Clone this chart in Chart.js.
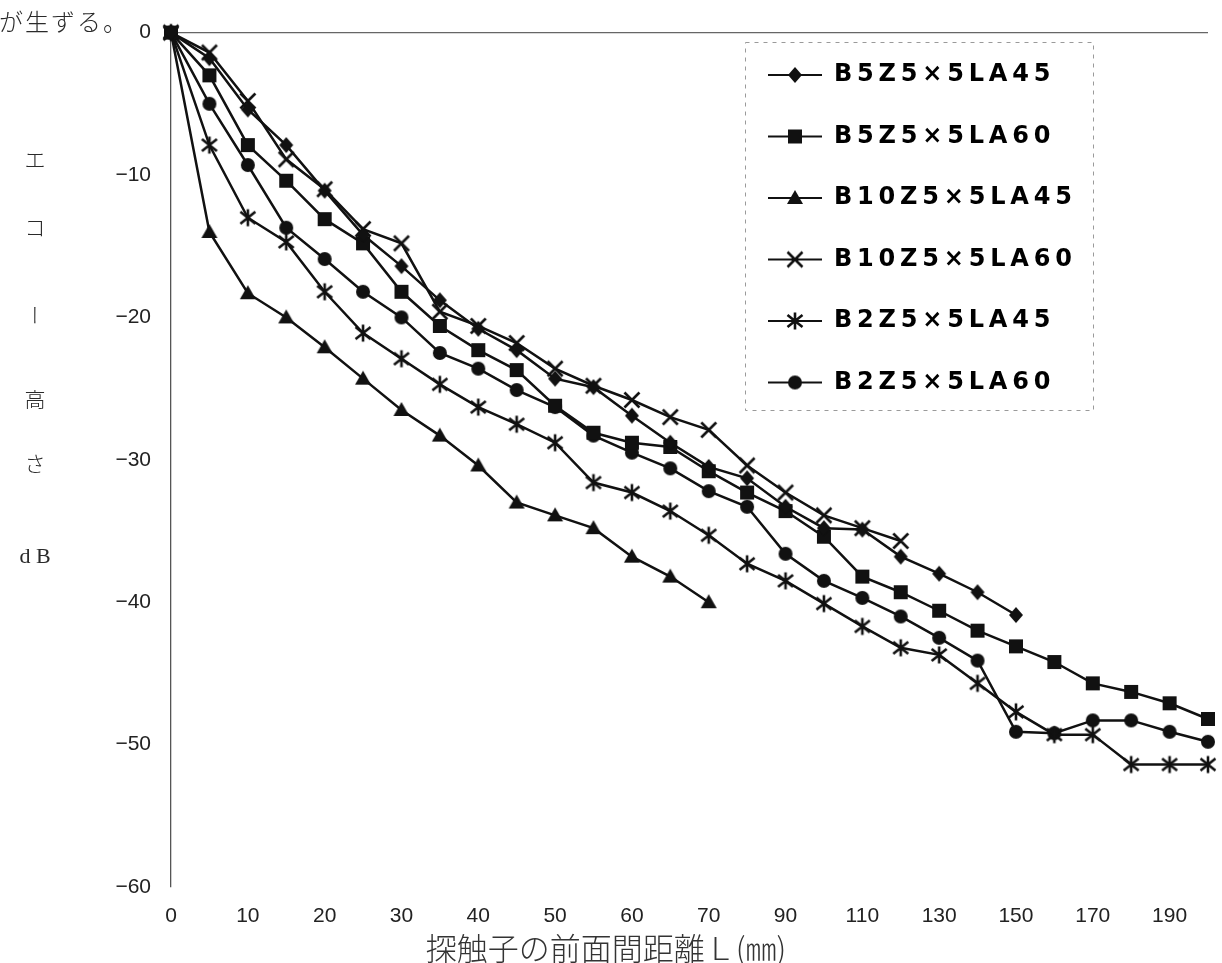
<!DOCTYPE html>
<html lang="ja">
<head>
<meta charset="utf-8">
<title>エコー高さと探触子の前面間距離</title>
<script src="https://cdn.jsdelivr.net/npm/chart.js@4.4.1/dist/chart.umd.min.js"></script>
<style>
  html, body { margin: 0; padding: 0; background: #fff; }
  #wrap { position: relative; width: 1222px; height: 963px; overflow: hidden; }
  #chart { position: absolute; left: 0; top: 0; }
  .jp {
    position: absolute;
    font-family: "Noto Sans CJK JP", sans-serif;
    font-weight: 300;
    color: #2a2a2a;
    white-space: nowrap;
    transform: translate(-50%, -50%);
  }
  #lead { left: 64px; top: 20px; font-size: 24px; letter-spacing: 2px; }
  .yt { left: 35px; font-size: 21px; }
  .vert { writing-mode: vertical-rl; }
  .db { font-family: "Liberation Serif", serif; font-size: 22px; }
  #xtitle { left: 606px; top: 946px; font-size: 31px; color: #333; }
</style>
</head>
<body>
<div id="wrap">
  <canvas id="chart" width="1222" height="963"></canvas>
  <div class="jp" id="lead">が生ずる。</div>
  <div class="jp yt" style="top:158px">エ</div>
  <div class="jp yt" style="top:226px">コ</div>
  <div class="jp yt vert" style="top:315px">ー</div>
  <div class="jp yt" style="top:398px">高</div>
  <div class="jp yt" style="top:462px">さ</div>
  <div class="jp yt db" style="top:556px">d B</div>
  <div class="jp" id="xtitle">探触子の前面間距離Ｌ(㎜)</div>
</div>
<script>
// distance between probe fronts (mm) – 5 mm steps up to 70, then 10 mm steps
const distances = [0, 5, 10, 15, 20, 25, 30, 35, 40, 45, 50, 55, 60, 65, 70,
  80, 90, 100, 110, 120, 130, 140, 150, 160, 170, 180, 190, 200];
const xTickLabels = [0, 10, 20, 30, 40, 50, 60, 70, 90, 110, 130, 150, 170, 190];

// echo height (dB)
const b5z5la45 = [0, -1.8, -5.4, -7.9, -11.1, -14.2, -16.4, -18.8, -20.8, -22.3,
  -24.3, -24.9, -26.9, -28.8, -30.5, -31.3, -33.3, -34.8, -34.9, -36.8,
  -38.0, -39.3, -40.9];
const b5z5la60 = [0, -3.0, -7.9, -10.4, -13.1, -14.8, -18.2, -20.6, -22.3, -23.7,
  -26.2, -28.1, -28.8, -29.1, -30.8, -32.3, -33.6, -35.4, -38.2, -39.3,
  -40.6, -42.0, -43.1, -44.2, -45.7, -46.3, -47.1, -48.2];
const b10z5la45 = [0, -14.0, -18.3, -20.0, -22.1, -24.3, -26.5, -28.3, -30.4, -33.0,
  -33.9, -34.8, -36.8, -38.2, -40.0];
const b10z5la60 = [0, -1.4, -4.8, -8.9, -11.0, -13.8, -14.8, -19.6, -20.6, -21.8,
  -23.6, -24.8, -25.8, -27.0, -27.9, -30.4, -32.3, -33.9, -34.8, -35.7];
const b2z5la45 = [0, -7.9, -13.0, -14.7, -18.2, -21.1, -22.9, -24.7, -26.3, -27.5,
  -28.8, -31.6, -32.3, -33.6, -35.3, -37.3, -38.5, -40.1, -41.7, -43.2,
  -43.7, -45.7, -47.7, -49.3, -49.3, -51.4, -51.4, -51.4];
const b2z5la60 = [0, -5.0, -9.3, -13.7, -15.9, -18.2, -20.0, -22.5, -23.6, -25.1,
  -26.3, -28.3, -29.5, -30.6, -32.2, -33.3, -36.6, -38.5, -39.7, -41.0,
  -42.5, -44.1, -49.1, -49.2, -48.3, -48.3, -49.1, -49.8];

const seriesNames = ["B5Z5×5LA45", "B5Z5×5LA60", "B10Z5×5LA45",
  "B10Z5×5LA60", "B2Z5×5LA45", "B2Z5×5LA60"];
const seriesValues = [b5z5la45, b5z5la60, b10z5la45, b10z5la60, b2z5la45, b2z5la60];
const markerKinds = ["diamond", "square", "triangle", "cross", "asterisk", "circle"];

const ink = "#111";
const tickFont = { family: "'Liberation Sans', Arial, sans-serif", size: 21 };
const legendRect = { x: 745, y: 42, w: 348, h: 368 };

function paintMarker(ctx, kind, cx, cy) {
  ctx.fillStyle = ink;
  ctx.strokeStyle = ink;
  ctx.lineWidth = 2.6;
  ctx.beginPath();
  switch (kind) {
    case "diamond":
      ctx.moveTo(cx, cy - 8);
      ctx.lineTo(cx + 7, cy);
      ctx.lineTo(cx, cy + 8);
      ctx.lineTo(cx - 7, cy);
      ctx.closePath();
      ctx.fill();
      break;
    case "square":
      ctx.rect(cx - 7, cy - 7, 14, 14);
      ctx.fill();
      break;
    case "triangle":
      ctx.moveTo(cx, cy - 8);
      ctx.lineTo(cx + 8, cy + 6);
      ctx.lineTo(cx - 8, cy + 6);
      ctx.closePath();
      ctx.fill();
      break;
    case "cross":
      ctx.moveTo(cx - 7.5, cy - 7.5);
      ctx.lineTo(cx + 7.5, cy + 7.5);
      ctx.moveTo(cx + 7.5, cy - 7.5);
      ctx.lineTo(cx - 7.5, cy + 7.5);
      ctx.stroke();
      break;
    case "asterisk":
      ctx.moveTo(cx, cy - 8.5);
      ctx.lineTo(cx, cy + 8.5);
      ctx.moveTo(cx - 7.5, cy - 6);
      ctx.lineTo(cx + 7.5, cy + 6);
      ctx.moveTo(cx + 7.5, cy - 6);
      ctx.lineTo(cx - 7.5, cy + 6);
      ctx.stroke();
      break;
    case "circle":
      ctx.arc(cx, cy, 7, 0, Math.PI * 2);
      ctx.fill();
      break;
  }
}

// marker image, optionally with the legend's short line through it
function markerImage(kind, lineLen) {
  const c = document.createElement("canvas");
  c.width = lineLen || 22;
  c.height = 22;
  const ctx = c.getContext("2d");
  if (lineLen) {
    ctx.strokeStyle = ink;
    ctx.lineWidth = 1.8;
    ctx.beginPath();
    ctx.moveTo(0, 11);
    ctx.lineTo(lineLen, 11);
    ctx.stroke();
  }
  paintMarker(ctx, kind, c.width / 2, 11);
  return c;
}

const pointImages = markerKinds.map((k) => markerImage(k));
const legendImages = markerKinds.map((k) => markerImage(k, 54));

const datasets = seriesNames.map((name, i) => ({
  label: name,
  data: seriesValues[i],
  borderColor: ink,
  backgroundColor: ink,
  borderWidth: 2.5,
  pointStyle: pointImages[i],
  pointRadius: 8,
  tension: 0,
  clip: false,
}));

// moves the legend into its framed box on the right side of the plot
const legendBox = {
  id: "legendBox",
  afterLayout(chart) {
    const lg = chart.legend;
    const pad = chart.options.plugins.legend.labels.padding;
    const h = lg.height;
    lg.left = legendRect.x + 23 - pad;
    lg.top = 63 - pad;
    lg.right = legendRect.x + legendRect.w + 10;
    lg.bottom = lg.top + h;
    if (!lg._spaced) {
      // the legend lettering is set wide
      const draw = lg.draw;
      lg.draw = function (...args) {
        const ctx = chart.ctx;
        const prev = ctx.letterSpacing;
        ctx.letterSpacing = "4.8px";
        draw.apply(this, args);
        ctx.letterSpacing = prev || "0px";
      };
      lg._spaced = true;
    }
  },
  afterDraw(chart) {
    const ctx = chart.ctx;
    ctx.save();
    ctx.strokeStyle = "#9a9a9a";
    ctx.lineWidth = 1;
    ctx.setLineDash([4, 5]);
    ctx.strokeRect(legendRect.x + 0.5, legendRect.y + 0.5, legendRect.w, legendRect.h);
    ctx.restore();
  },
};

new Chart(document.getElementById("chart"), {
  type: "line",
  data: { labels: distances, datasets: datasets },
  options: {
    responsive: false,
    animation: false,
    events: [],
    layout: { padding: { top: 19, right: 14, left: 0, bottom: 0 } },
    scales: {
      x: {
        type: "category",
        offset: false,
        grid: { display: false },
        border: { display: false },
        ticks: {
          autoSkip: false,
          maxRotation: 0,
          padding: 9,
          color: "#222",
          font: tickFont,
          callback: (val, index) =>
            xTickLabels.includes(distances[index]) ? String(distances[index]) : "",
        },
        afterFit: (scale) => { scale.height = 76; },
      },
      y: {
        min: -60,
        max: 0,
        ticks: {
          stepSize: 10,
          padding: 20,
          color: "#222",
          font: tickFont,
          callback: (v) => (v === 0 ? "0" : "\u2212" + Math.abs(v)),
        },
        grid: {
          drawTicks: false,
          lineWidth: 1.3,
          color: (c) => (c.tick && c.tick.value === 0 ? "#666" : "rgba(0,0,0,0)"),
        },
        border: { display: true, color: "#555", width: 1.3 },
        afterFit: (scale) => { scale.width = 171; },
      },
    },
    plugins: {
      tooltip: { enabled: false },
      legend: {
        position: "chartArea",
        align: "start",
        labels: {
          usePointStyle: true,
          pointStyleWidth: 54,
          padding: 37.5,
          color: "#111",
          font: { family: "'DejaVu Sans', sans-serif", size: 24, weight: "bold" },
          generateLabels: (chart) =>
            chart.data.datasets.map((ds, i) => ({
              text: ds.label,
              pointStyle: legendImages[i],
              fillStyle: ink,
              strokeStyle: ink,
              lineWidth: 0,
              hidden: false,
              datasetIndex: i,
            })),
        },
      },
    },
  },
  plugins: [legendBox],
});
</script>
</body>
</html>
